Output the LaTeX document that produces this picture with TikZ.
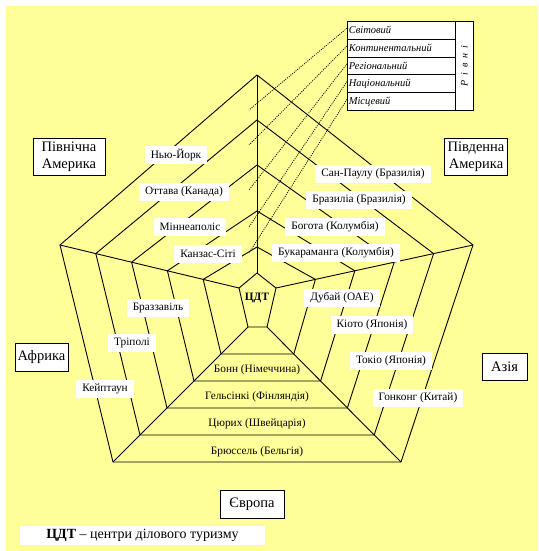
\documentclass[tikz,border=0pt]{standalone}
\usepackage{fontspec}
\setmainfont{Liberation Serif}
\definecolor{bgyellow}{HTML}{FFFF99}

\begin{document}
\begin{tikzpicture}[x=1pt, y=-1pt,
        edge/.style={line width=0.9pt},
        city/.style={fill=white, inner xsep=6pt, inner ysep=0pt, minimum height=17.5pt, font=\fontsize{11.3}{12}\selectfont},
        band/.style={inner sep=0pt, font=\fontsize{11.3}{12}\selectfont},
        cont/.style={draw, line width=0.9pt, fill=white, align=center, inner sep=2pt, font=\fontsize{14.5}{17}\selectfont},
        lvl/.style={draw, line width=0.6pt, fill=white, anchor=north west, text width=105pt, inner xsep=1.5pt, inner ysep=0pt, minimum height=17.8pt, align=left, font=\fontsize{10.5}{12}\selectfont\itshape}
      ]

  \useasboundingbox (0,0) rectangle (538,551);
  \fill[bgyellow] (6,6) rectangle (538,551);

  % six pentagons, 0 = inner
  \foreach \k/\ty in {0/273,1/247,2/211,3/165,4/120,5/75} {
    \coordinate (t\k) at (257,\ty);
    \coordinate (l\k) at ({239-35.8*\k},{288-8.6*\k});
    \coordinate (r\k) at ({276+39.4*\k},{288-8.6*\k});
    \coordinate (bl\k) at ({248-27*\k},{327+27*\k});
    \coordinate (br\k) at ({267+26.8*\k},{327+27*\k});
    \draw[edge] (t\k) -- (r\k) -- (br\k) -- (bl\k) -- (l\k) -- cycle;
  }
  \foreach \v in {t,l,r,bl,br}
    \draw[edge] (\v0) -- (\v5);

  % levels
  \foreach \i/\name in {1/Світовий,2/Континентальний,3/Регіональний,4/Національний,5/Місцевий}
    \node[lvl] (lv\i) at (347,{21+17.8*(\i-1)}) {\name};
  \node[draw, line width=0.6pt, fill=white, anchor=north west, minimum width=18pt, minimum height=89pt, inner sep=0pt] (levels) at (455,21) {};
  \node[rotate=90, font=\fontsize{10}{10}\selectfont\itshape] (rivni) at (levels.center) {Р\,\,\,і\,\,\,в\,\,\,н\,\,\,і};

  \foreach \i/\y in {1/110,2/145,3/190,4/227,5/253} {
    \coordinate (d\i) at (249,\y);
    \draw[line width=0.8pt, dash pattern=on 1pt off 1.2pt] ([yshift=2pt]lv\i.west) -- (d\i);
  }

  \node[city] (nyork) at (176,155) {Нью-Йорк};
  \node[city] (ottawa) at (184,192) {Оттава (Канада)};
  \node[city] (minn) at (190,227) {Міннеаполіс};
  \node[city] (kansas) at (208,254) {Канзас-Сіті};
  \node[city] (saopaulo) at (373,174) {Сан-Паулу (Бразилія)};
  \node[city] (brasilia) at (359,200) {Бразиліа (Бразилія)};
  \node[city] (bogota) at (335,227) {Богота (Колумбія)};
  \node[city] (bucar) at (336,253) {Букараманга (Колумбія)};
  \node[city] (dubai) at (342,298) {Дубай (ОАЕ)};
  \node[city] (kyoto) at (372,325) {Кіото (Японія)};
  \node[city] (tokyo) at (391,361) {Токіо (Японія)};
  \node[city] (hkong) at (418,398) {Гонконг (Китай)};
  \node[city] (brazz) at (158,308) {Браззавіль};
  \node[city] (tripoli) at (132,343) {Тріполі};
  \node[city] (cape) at (105,389) {Кейптаун};

  \node[band] (bonn) at (257,370) {Бонн (Німеччина)};
  \node[band] (helsinki) at (257,397) {Гельсінкі (Фінляндія)};
  \node[band] (zurich) at (257,424) {Цюрих (Швейцарія)};
  \node[band] (brussels) at (257,452) {Брюссель (Бельгія)};
  \node[band, font=\fontsize{11.3}{12}\selectfont\bfseries] (cdt) at (257,298) {ЦДТ};

  % continents
  \node[cont, minimum width=72pt, minimum height=37pt] (namer) at (69,156.5) {Північна\\Америка};
  \node[cont, minimum width=63pt, minimum height=37pt] (samer) at (476,156.5) {Південна\\Америка};
  \node[cont, minimum width=53pt, minimum height=28pt] (africa) at (41.5,357) {Африка};
  \node[cont, minimum width=45pt, minimum height=27pt] (asia) at (504.5,366.5) {Азія};
  \node[cont, minimum width=64pt, minimum height=28pt] (europe) at (252,504) {Європа};

  \node[fill=white, minimum width=245pt, minimum height=19pt, inner sep=0pt, font=\fontsize{14}{15}\selectfont] (legend) at (142.5,535.5) {\textbf{ЦДТ} -- центри ділового туризму};

\end{tikzpicture}
\end{document}
